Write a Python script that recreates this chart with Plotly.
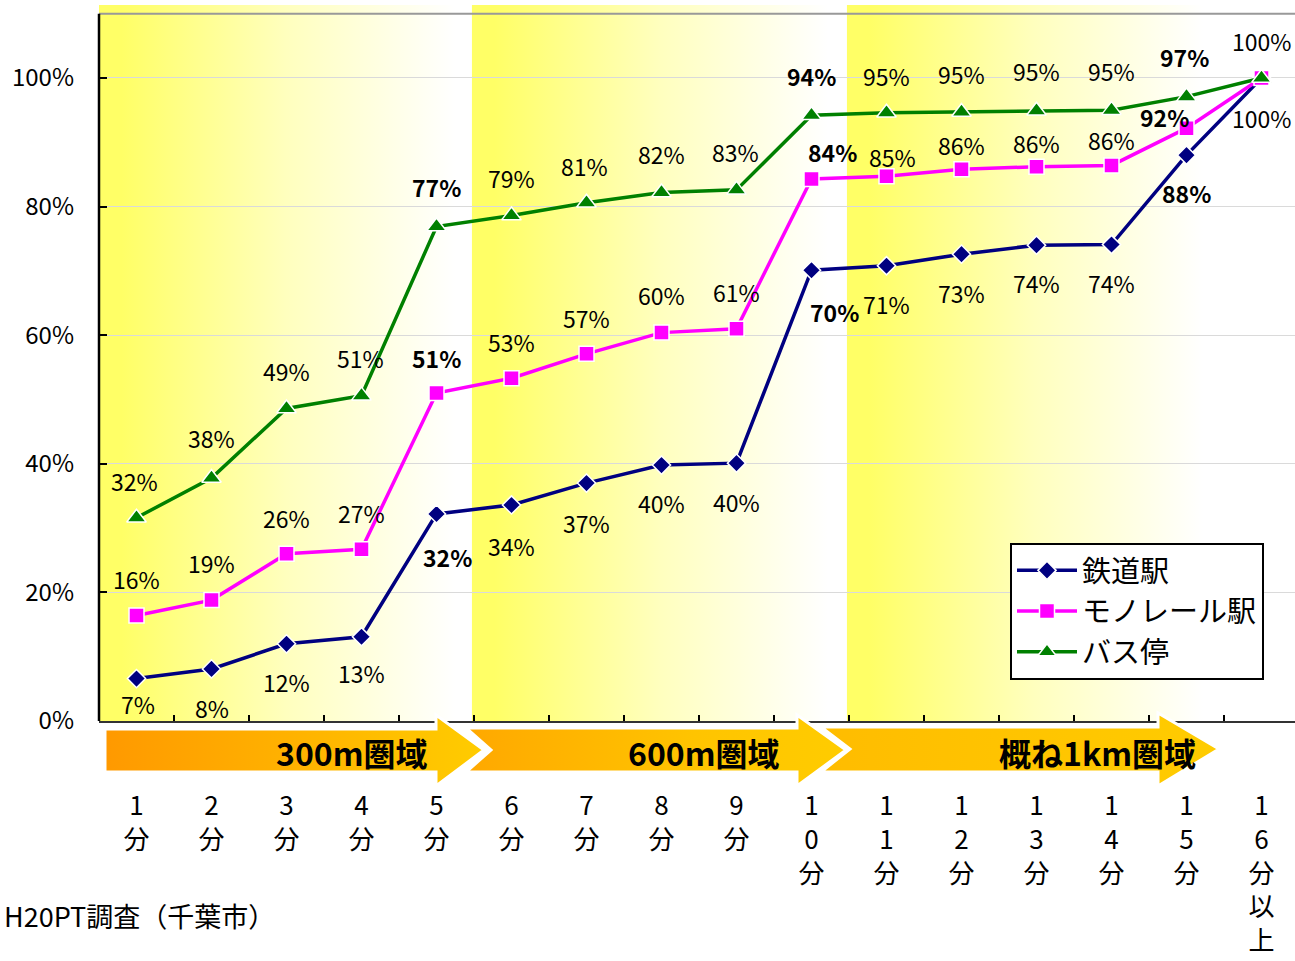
import base64
import plotly.graph_objects as go

# ---------------- data ----------------
categories = ["1分", "2分", "3分", "4分", "5分", "6分", "7分", "8分", "9分",
              "10分", "11分", "12分", "13分", "14分", "15分", "16分以上"]
series_names = ["鉄道駅", "モノレール駅", "バス停"]
rail = [6.6, 8.1, 12.0, 13.1, 32.2, 33.6, 37.0, 39.8, 40.1, 70.1, 70.8, 72.6, 74.0, 74.1, 88.0, 100.0]
mono = [16.4, 18.8, 26.0, 26.7, 51.0, 53.3, 57.1, 60.4, 61.0, 84.3, 84.7, 85.8, 86.2, 86.4, 92.2, 100.0]
bus = [31.6, 37.8, 48.6, 50.6, 76.9, 78.6, 80.6, 82.2, 82.6, 94.2, 94.6, 94.7, 94.9, 95.0, 97.1, 100.0]
y_tick_values = [0, 20, 40, 60, 80, 100]
y_tick_labels = ["0%", "20%", "40%", "60%", "80%", "100%"]
zone_labels = ["300m圏域", "600m圏域", "概ね1km圏域"]
source_note = "H20PT調査（千葉市）"

# ---------------- styling / layout helpers ----------------
W, H = 1295, 961
ML, MT, MB, MR = 99, 5, 240, 0
PLOT_W = W - ML - MR
PLOT_H = H - MT - MB
PX_PER_CAT = 75.0
X0 = 0.5
X1 = X0 + PLOT_W / PX_PER_CAT
Y_MAX = 111.35

def py2paper(py):
    return (H - MB - py) / PLOT_H

xs = list(range(1, len(categories) + 1))
ticktext = ["<br>".join(list(c)) for c in categories]

colors = {"鉄道駅": "#000080", "モノレール駅": "#FF00FF", "バス停": "#008000"}
symbols = {"鉄道駅": "diamond", "モノレール駅": "square", "バス停": "triangle-up"}
msize = {"鉄道駅": 14, "モノレール駅": 15, "バス停": 17}

# label offsets (pixels, screen coords: +dy = down)
rail_dx = [1, 0, 0, 0, 11, 0, 0, 0, 0, 23, 0, 0, 0, 0, 0, 0]
rail_dy = [25, 39, 38, 36, 43, 41, 40, 38, 39, 42, 38, 39, 38, 38, 38, 40]
rail_show = [True] * 16
mono_dx = [0, 0, 0, 0, 0, 0, 0, 0, 0, 21, 6, 0, 0, 0, -22, 0]
mono_dy = [-37, -37, -36, -36, -35, -36, -36, -38, -37, -27, -19, -24, -24, -25, -11, 0]
mono_show = [True] * 15 + [False]
bus_dx = [-2, 0, 0, -1, 0, 0, -2, 0, -1, 0, 0, 0, 0, 0, -2, 0]
bus_dy = [-37, -40, -37, -38, -40, -38, -37, -38, -38, -39, -37, -38, -40, -39, -40, -37]
bus_show = [True] * 16
bold_idx = {4, 9, 14}

fig = go.Figure()

# ---------- gradient background bands (SVG images) ----------
band_svg = ('<svg xmlns="http://www.w3.org/2000/svg" width="100" height="100" viewBox="0 0 100 100" '
            'preserveAspectRatio="none"><defs><linearGradient id="g" x1="0" y1="0" x2="1" y2="0">'
            '<stop offset="0.06" stop-color="#FFFF66"/><stop offset="0.5" stop-color="#FFFFBE"/>'
            '<stop offset="0.95" stop-color="#FFFFFF"/></linearGradient></defs>'
            '<rect x="0" y="0" width="100" height="100" fill="url(#g)"/></svg>')
band_src = "data:image/svg+xml;base64," + base64.b64encode(band_svg.encode()).decode()
band_starts = [0.5, 5.47, 10.47]
images = []
for bs in band_starts:
    images.append(dict(source=band_src, xref="x", yref="y", x=bs, y=Y_MAX, sizex=5.0, sizey=Y_MAX,
                       xanchor="left", yanchor="top", sizing="stretch", layer="below"))

# ---------- zone arrows (SVG image below axis) ----------
AX0, AY0, AW, AH = 100, 710, 1125, 80
arrow_svg = (
    f'<svg xmlns="http://www.w3.org/2000/svg" width="{AW}" height="{AH}" viewBox="0 0 {AW} {AH}" preserveAspectRatio="none">'
    '<defs>'
    '<linearGradient id="a1" x1="0" y1="0" x2="1" y2="0"><stop offset="0" stop-color="#FF9900"/><stop offset="1" stop-color="#FFCC00"/></linearGradient>'
    '<linearGradient id="a2" x1="0" y1="0" x2="1" y2="0"><stop offset="0" stop-color="#FFA800"/><stop offset="0.6" stop-color="#FFC400"/><stop offset="1" stop-color="#FFCC00"/></linearGradient>'
    '<linearGradient id="a3" x1="0" y1="0" x2="1" y2="0"><stop offset="0" stop-color="#FFBC00"/><stop offset="1" stop-color="#FFCC00"/></linearGradient>'
    '</defs>'
    '<polygon points="5,19 336,19 336,5 384,40 336,76 336,62 5,62" fill="url(#a1)" stroke="#FFFFFF" stroke-width="3"/>'
    '<polygon points="366,18 697,18 697,5 746,40 697,76 697,62 366,62 391,40" fill="url(#a2)" stroke="#FFFFFF" stroke-width="3"/>'
    '<polygon points="721,17 1058,17 1058,3 1119,39 1058,76 1058,62 721,62 750,39" fill="url(#a3)" stroke="#FFFFFF" stroke-width="3"/>'
    '</svg>')
arrow_src = "data:image/svg+xml;base64," + base64.b64encode(arrow_svg.encode()).decode()
images.append(dict(source=arrow_src, xref="paper", yref="paper",
                   x=(AX0 - ML) / PLOT_W, y=py2paper(AY0), sizex=AW / PLOT_W, sizey=AH / PLOT_H,
                   xanchor="left", yanchor="top", sizing="stretch", layer="above"))

# ---------- data traces ----------
for name, vals in zip(series_names, [rail, mono, bus]):
    fig.add_trace(go.Scatter(
        x=xs, y=vals, name=name, mode="lines+markers",
        line=dict(color=colors[name], width=3.5),
        marker=dict(symbol=symbols[name], size=msize[name], color=colors[name],
                    line=dict(color="white", width=1.5)),
        cliponaxis=False, hoverinfo="skip"))

# ---------- data labels ----------
LABEL_FONT = "Noto Sans CJK JP, sans-serif"
annotations = []
for vals, dxl, dyl, shl in [(rail, rail_dx, rail_dy, rail_show),
                            (mono, mono_dx, mono_dy, mono_show),
                            (bus, bus_dx, bus_dy, bus_show)]:
    for i, v in enumerate(vals):
        if not shl[i]:
            continue
        bold = i in bold_idx
        annotations.append(dict(
            x=xs[i], y=v, xref="x", yref="y", text=f"{v:.0f}%", showarrow=False,
            xshift=dxl[i], yshift=-dyl[i],
            font=dict(family=LABEL_FONT, size=23, color="black",
                      weight="bold" if bold else "normal")))

# zone labels (right aligned near arrow heads)
zone_right_px = [430, 782, 1198]
for lbl, rp in zip(zone_labels, zone_right_px):
    annotations.append(dict(
        x=(rp - ML) / PLOT_W, y=py2paper(752), xref="paper", yref="paper",
        xanchor="right", yanchor="middle", text=f"<b>{lbl}</b>", showarrow=False,
        font=dict(family="Noto Sans CJK JP", size=32, color="black")))

# source note (kept fully inside the page)
annotations.append(dict(
    x=(2 - ML) / PLOT_W, y=py2paper(915), xref="paper", yref="paper",
    xanchor="left", yanchor="middle", text=source_note, showarrow=False,
    font=dict(family="Noto Sans CJK JP", size=27, color="black")))

shapes = [
    dict(type="line", xref="paper", yref="y", x0=0, x1=1, y0=110, y1=110,
         line=dict(color="#999999", width=2), layer="above"),
    dict(type="line", xref="paper", yref="y", x0=0, x1=0, y0=0, y1=110,
         line=dict(color="black", width=2.5), layer="above"),
]

fig.update_layout(
    width=W, height=H,
    margin=dict(l=ML, r=MR, t=MT, b=MB, pad=0, autoexpand=False),
    paper_bgcolor="white", plot_bgcolor="white",
    images=images, annotations=annotations, shapes=shapes,
    showlegend=True,
    legend=dict(x=(1010 - ML) / PLOT_W, y=py2paper(543), xanchor="left", yanchor="top",
                bgcolor="white", bordercolor="black", borderwidth=2,
                font=dict(family="Noto Sans CJK JP", size=29, color="black"),
                itemwidth=60, tracegroupgap=0),
    font=dict(family="Noto Sans CJK JP", color="black"),
)

fig.update_xaxes(
    range=[X0, X1], tickmode="array", tickvals=xs, ticktext=ticktext,
    ticks="", showgrid=False, zeroline=False, automargin=False,
    showline=True, linecolor="#333333", linewidth=1.5,
    tickfont=dict(family="Noto Sans CJK JP", size=26, color="black"),
    ticklabelstandoff=61,
    minor=dict(tickmode="array", tickvals=[v + 0.5 for v in xs[:-1]], ticks="inside",
               ticklen=6, tickwidth=1.5, tickcolor="black", showgrid=False),
    fixedrange=True)

fig.update_yaxes(
    range=[0, Y_MAX], tickmode="array", tickvals=y_tick_values, ticktext=y_tick_labels,
    ticks="inside", ticklen=8, tickwidth=2, tickcolor="black", automargin=False,
    showgrid=True, gridcolor="#DADADA", gridwidth=1, zeroline=False, showline=False,
    tickfont=dict(family="Noto Sans CJK JP", size=24, color="black"),
    ticklabelstandoff=24, fixedrange=True)

fig.write_html("out.html", config={"displayModeBar": False},
               post_script="document.body.style.margin='0';")
